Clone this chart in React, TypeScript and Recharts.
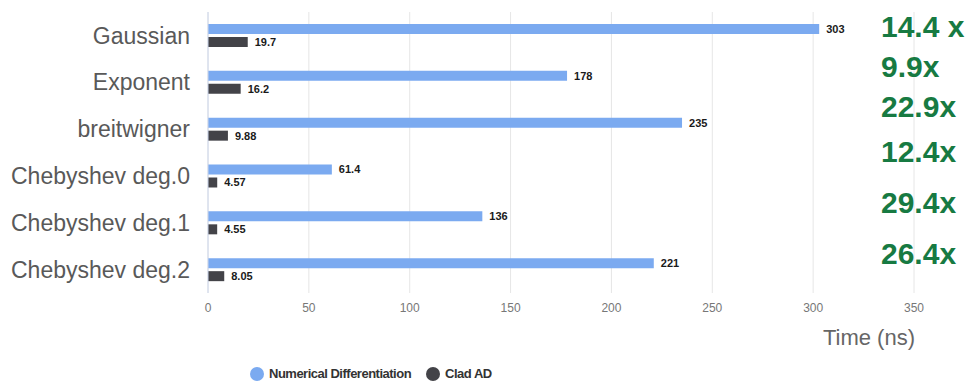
import { BarChart, Bar, XAxis, YAxis, CartesianGrid, Legend, LabelList } from "recharts";

const functions = [
  "Gaussian",
  "Exponent",
  "breitwigner",
  "Chebyshev deg.0",
  "Chebyshev deg.1",
  "Chebyshev deg.2",
];
const numericalDiff = [303, 178, 235, 61.4, 136, 221];
const cladAD = [19.7, 16.2, 9.88, 4.57, 4.55, 8.05];
const speedups = ["14.4 x", "9.9x", "22.9x", "12.4x", "29.4x", "26.4x"];
const timeTicks = [0, 50, 100, 150, 200, 250, 300, 350];
const seriesNames = ["Numerical Differentiation", "Clad AD"];

const data = functions.map((name, i) => ({
  name,
  numerical: numericalDiff[i],
  clad: cladAD[i],
}));

// the speedup notes were placed by hand on the slide, so they sit a bit off the bars
const speedupNudge = [-16, -22, -29, -31, -27, -23];

const FONT = '"Liberation Sans", Arial, sans-serif';
const NARROW = '"Liberation Sans Narrow", "Arial Narrow", Arial, sans-serif';

const SpeedupLabel = (props: any) => {
  const { y, height, index } = props;
  return (
    <text
      x={881}
      y={y + height / 2 + speedupNudge[index]}
      dominantBaseline="central"
      fill="#177a42"
      fontFamily={FONT}
      fontWeight="bold"
      fontSize={30}
    >
      {speedups[index]}
    </text>
  );
};

const LegendContent = (props: any) => {
  const { payload = [] } = props;
  // vertical layout flips the legend order, put it back
  const items = [...payload].sort(
    (a: any, b: any) => seriesNames.indexOf(a.value) - seriesNames.indexOf(b.value)
  );
  return (
    <div
      style={{
        display: "flex",
        alignItems: "center",
        height: 29,
        paddingTop: 12,
        boxSizing: "border-box",
        paddingLeft: 250,
      }}
    >
      {items.map((entry: any) => (
        <div key={entry.value} style={{ display: "flex", alignItems: "center", marginRight: 15 }}>
          <span
            style={{
              width: 14,
              height: 14,
              borderRadius: 7,
              background: entry.color,
              display: "inline-block",
              marginRight: 5,
            }}
          />
          <span
            style={{
              fontFamily: NARROW,
              fontWeight: "bold",
              fontSize: 13,
              letterSpacing: -0.5,
              color: "#333",
            }}
          >
            {entry.value}
          </span>
        </div>
      ))}
    </div>
  );
};

export default function App() {
  return (
    <div style={{ position: "absolute", left: 0, top: 0, background: "#fff" }}>
      <BarChart
        width={971}
        height={382}
        data={data}
        layout="vertical"
        margin={{ top: 12, right: 57, left: 8, bottom: 0 }}
        barSize={10}
        barGap={3}
      >
        <CartesianGrid horizontal={false} stroke="#e6e6e6" />
        <XAxis
          type="number"
          domain={[0, 350]}
          ticks={timeTicks}
          axisLine={false}
          tickLine={false}
          tickSize={0}
          tickMargin={10}
          height={60}
          tick={{ fill: "#777", fontSize: 12, fontFamily: NARROW }}
          label={{
            value: "Time (ns)",
            position: "insideBottomRight",
            offset: 8,
            dx: 9,
            fill: "#666",
            fontSize: 22,
            fontFamily: FONT,
          }}
        />
        <YAxis
          type="category"
          dataKey="name"
          width={200}
          tickLine={false}
          tickSize={0}
          tickMargin={18}
          axisLine={{ stroke: "#ccd6eb" }}
          tick={{ fill: "#595959", fontSize: 23, fontFamily: FONT }}
        />
        <Legend
          verticalAlign="bottom"
          content={<LegendContent />}
          wrapperStyle={{ left: 0, width: 971, height: 29 }}
        />
        <Bar dataKey="numerical" name={seriesNames[0]} fill="#7baaf0" isAnimationActive={false}>
          <LabelList
            dataKey="numerical"
            position="right"
            offset={7}
            fill="#1a1a1a"
            fontSize={11}
            fontWeight="bold"
            fontFamily={FONT}
          />
        </Bar>
        <Bar dataKey="clad" name={seriesNames[1]} fill="#434348" isAnimationActive={false}>
          <LabelList
            dataKey="clad"
            position="right"
            offset={7}
            fill="#1a1a1a"
            fontSize={11}
            fontWeight="bold"
            fontFamily={FONT}
          />
          <LabelList dataKey="clad" content={<SpeedupLabel />} />
        </Bar>
      </BarChart>
    </div>
  );
}
